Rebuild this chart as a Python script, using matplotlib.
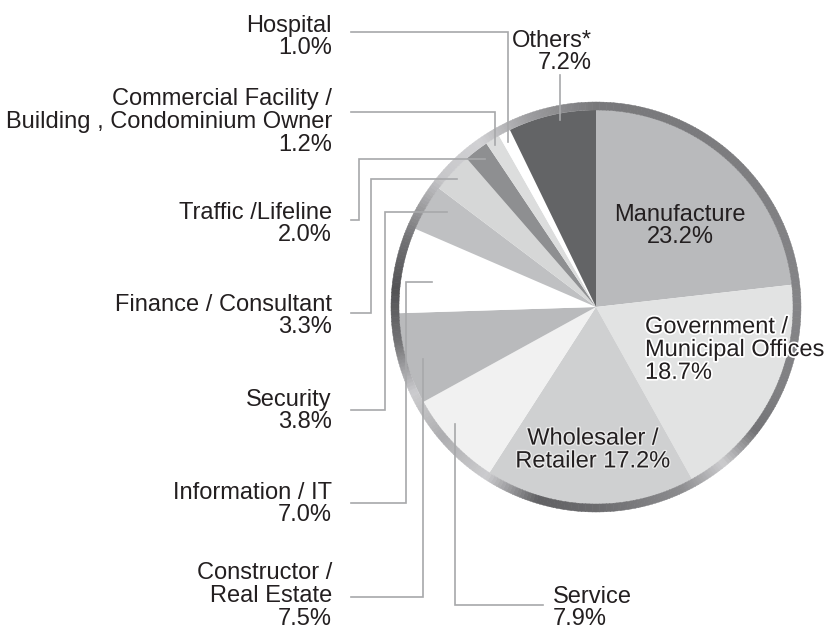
import numpy as np
import matplotlib
matplotlib.use("Agg")
from matplotlib import pyplot as plt
from matplotlib.patches import Wedge
import matplotlib.patheffects as pe

plt.rcParams['font.family'] = ['Liberation Sans', 'DejaVu Sans']

# data, clockwise from 12 o'clock
sectors = ["Manufacture", "Government /\nMunicipal Offices", "Wholesaler /\nRetailer",
           "Service", "Constructor /\nReal Estate", "Information / IT", "Security",
           "Finance / Consultant", "Traffic /Lifeline",
           "Commercial Facility /\nBuilding , Condominium Owner", "Hospital", "Others*"]
shares = [23.2, 18.7, 17.2, 7.9, 7.5, 7.0, 3.8, 3.3, 2.0, 1.2, 1.0, 7.2]
colors = ["#b9babc", "#e2e3e3", "#cfd0d1", "#f1f1f1", "#b9babc", "#ffffff",
          "#bfc0c2", "#d6d7d7", "#8e8f91", "#dcdddd", "#ffffff", "#636466"]

W, H = 830, 630
cx, cy = 596, H - 307
r_in, r_out = 197, 205
txt = "#231f20"
line_c = "#a7a8aa"

fig = plt.figure(figsize=(8.3, 6.3), dpi=100)
ax = fig.add_axes([0, 0, 1, 1])

ax.pie(shares, colors=colors, startangle=90, counterclock=False,
       center=(cx, cy), radius=r_in, wedgeprops=dict(linewidth=0))

# metallic rim (decoration only)
stop_a = [0, 30, 60, 90, 115, 128, 141, 155, 180, 197, 213, 230, 245, 260, 275, 290, 310, 325, 340, 360]
stop_g = [0.47, 0.48, 0.50, 0.52, 0.50, 0.45, 0.80, 0.55, 0.42, 0.38, 0.80, 0.68, 0.80, 0.45,
          0.32, 0.45, 0.78, 0.82, 0.62, 0.47]
for a in np.arange(0, 360, 1.0):
    g = np.interp(a + 0.5, stop_a, stop_g)
    c = (g, g, min(g + 0.01, 1.0))
    ax.add_patch(Wedge((cx, cy), r_out, 90 - a - 1.05, 90 - a + 0.05, width=r_out - r_in,
                       facecolor=c, edgecolor=c, linewidth=0.3))

# inner labels
ax.text(680, H - 226, "Manufacture\n23.2%", ha="center", va="center", fontsize=17,
        color=txt, linespacing=1.05)
ax.text(645, H - 350, "Government /\nMunicipal Offices\n18.7%", ha="left", va="center",
        fontsize=17, color=txt, linespacing=1.05,
        path_effects=[pe.withStroke(linewidth=2.5, foreground="white")])
ax.text(593, H - 450, "Wholesaler /\nRetailer 17.2%", ha="center", va="center", fontsize=17,
        color=txt, linespacing=1.05,
        path_effects=[pe.withStroke(linewidth=2, foreground="#e8e8e8")])

# outside labels: (sector index, x, y, ha)
outside = [(10, 332, 37, "right"), (9, 332, 122, "right"), (8, 332, 224, "right"),
           (7, 332, 316, "right"), (6, 332, 411, "right"), (5, 332, 504, "right"),
           (4, 332, 596, "right"), (3, 553, 608, "left"), (11, 592, 52, "right")]
for i, x, y, ha in outside:
    label = sectors[i] + "\n" + f"{shares[i]:.1f}%"
    ax.text(x, H - y, label, ha=ha, va="center", fontsize=17, color=txt,
            linespacing=1.05, multialignment=ha)

# leader lines
leaders = [
    [(351, 32), (508, 32), (508, 142)],
    [(351, 112), (495, 112), (495, 145)],
    [(351, 220), (359, 220), (359, 159), (485, 159)],
    [(351, 313), (371, 313), (371, 179), (457, 179)],
    [(351, 410), (385, 410), (385, 212), (447, 212)],
    [(351, 503), (406, 503), (406, 282), (432, 282)],
    [(351, 597), (423, 597), (423, 359)],
    [(543, 605), (455, 605), (455, 424)],
    [(560, 75), (560, 120)],
]
for pts in leaders:
    xs = [p[0] for p in pts]
    ys = [H - p[1] for p in pts]
    ax.plot(xs, ys, color=line_c, linewidth=1.2, solid_joinstyle="miter")

ax.set_xlim(0, W)
ax.set_ylim(0, H)
ax.set_aspect("equal")
ax.axis("off")

fig.savefig("out.png", dpi=100, facecolor="white")
